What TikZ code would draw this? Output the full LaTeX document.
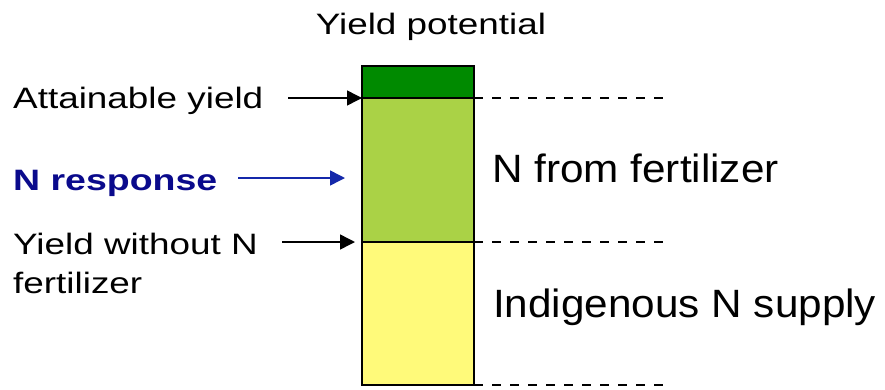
\documentclass[tikz,border=0pt]{standalone}
\usepackage{fontspec}
\setmainfont{Liberation Sans}
\usetikzlibrary{arrows.meta}
\definecolor{yielddark}{RGB}{0,138,0}
\definecolor{yieldlight}{RGB}{170,210,70}
\definecolor{soilyellow}{RGB}{255,250,122}
\definecolor{respnavy}{RGB}{10,10,140}
\definecolor{respblue}{RGB}{20,40,170}
\newcommand\stretchtext[2]{\scalebox{#1}[1]{#2}}
\begin{document}
\begin{tikzpicture}[x=1pt,y=-1pt,
  lbl/.style={anchor=base west,inner sep=0pt,font=\fontsize{29.5}{35}\selectfont},
  big/.style={anchor=base west,inner sep=0pt,font=\fontsize{39.5}{47}\selectfont},
  seg/.style={draw=black,line width=2pt,minimum width=112pt,inner sep=0pt,outer sep=0pt,anchor=north west},
  pointer/.style={-{Triangle[length=15pt,width=15pt]},line width=1.5pt},
  level/.style={line width=2.2pt,dash pattern=on 9pt off 9pt}]
\useasboundingbox (0,0) rectangle (885,389);

% stacked yield bar
\node[seg,fill=soilyellow,minimum height=143pt] (indig) at (362,242) {};
\node[seg,fill=yieldlight,minimum height=144pt] (fert) at (362,98) {};
\node[seg,fill=yielddark,minimum height=32pt] (gap) at (362,66) {};

% dashed yield levels
\coordinate (lvlA) at (665,98);
\coordinate (lvlB) at (665,242);
\coordinate (lvlC) at (665,385);
\draw[level] (fert.north east) -- (lvlA);
\draw[level] (indig.north east) -- (lvlB);
\draw[level] (indig.south east) -- (lvlC);

% labels
\node[anchor=base,inner sep=0pt,font=\fontsize{29.5}{35}\selectfont] (title) at (431,34) {\stretchtext{1.25}{Yield potential}};
\node[lbl] (attain) at (13,108) {\stretchtext{1.25}{Attainable yield}};
\node[lbl,text=respnavy,font=\fontsize{29.5}{35}\selectfont\bfseries] (resp) at (13,190.5) {\stretchtext{1.27}{N response}};
\node[lbl,align=left] (without) at (13,254) {\stretchtext{1.25}{Yield without N}};
\node[lbl] (without2) at (13,293) {\stretchtext{1.25}{fertilizer}};
\node[big] (fromfert) at (492,182) {\stretchtext{1.07}{N from fertilizer}};
\node[big] (supply) at (493,317) {\stretchtext{1.07}{Indigenous N supply}};

% pointers to the bar
\coordinate (attainTail) at (288,98);
\coordinate (respTail) at (238,178);
\coordinate (respHead) at (345,178);
\coordinate (withoutTail) at (282,242);
\coordinate (withoutHead) at (355,242);
\draw[pointer] (attainTail) -- (fert.north west);
\draw[pointer,draw=respblue,fill=respblue] (respTail) -- (respHead);
\draw[pointer] (withoutTail) -- (withoutHead);
\end{tikzpicture}
\end{document}
